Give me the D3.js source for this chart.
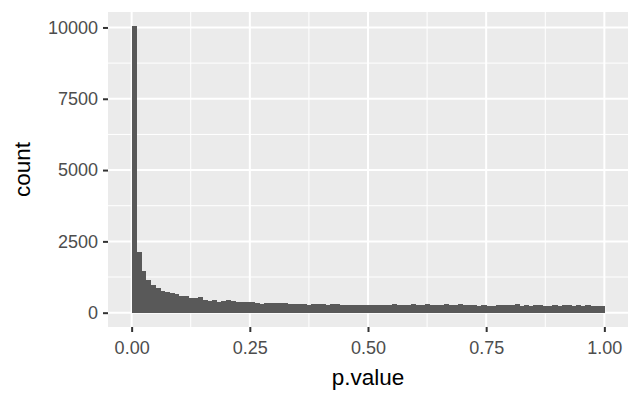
<!DOCTYPE html>
<html>
<head>
<meta charset="utf-8">
<script src="https://cdn.jsdelivr.net/npm/d3@7"></script>
<style>
html, body { margin: 0; padding: 0; background: #ffffff; }
svg { display: block; font-family: "Liberation Sans", Arial, Helvetica, sans-serif; }
</style>
</head>
<body>
<script>
// Histogram of p.value, binwidth 0.01, bins [0,0.01) ... [0.99,1.00]
const binStarts = d3.range(100).map(i => i / 100);
const counts = [
  10040, 2130, 1470, 1160, 980, 870, 770, 730, 695, 660,
  600, 595, 530, 525, 560, 445, 425, 455, 385, 425,
  455, 420, 365, 362, 362, 385, 350, 320, 350, 345,
  340, 345, 330, 320, 300, 295, 290, 285, 315, 290,
  305, 285, 310, 290, 280, 285, 280, 275, 280, 270,
  275, 280, 270, 285, 270, 295, 280, 285, 270, 290,
  275, 270, 290, 285, 265, 270, 290, 260, 265, 290,
  270, 260, 265, 250, 255, 225, 250, 255, 260, 265,
  255, 290, 250, 255, 250, 260, 255, 250, 225, 255,
  250, 255, 260, 250, 255, 245, 285, 250, 245, 250
];
const binWidth = 0.01;
const xTicks = [0, 0.25, 0.5, 0.75, 1];
const xTickLabels = ["0.00", "0.25", "0.50", "0.75", "1.00"];
const xMinor = [0.125, 0.375, 0.625, 0.875];
const yTicks = [0, 2500, 5000, 7500, 10000];
const yTickLabels = ["0", "2500", "5000", "7500", "10000"];
const yMinor = [1250, 3750, 6250, 8750];
const xTitle = "p.value";
const yTitle = "count";

const W = 640, H = 400;
const panel = { left: 108, right: 628, top: 12, bottom: 327 };

const svg = d3.select("body").append("svg").attr("width", W).attr("height", H);
svg.append("rect").attr("width", W).attr("height", H).attr("fill", "#ffffff");

const maxC = d3.max(counts);
const x = d3.scaleLinear().domain([-0.05, 1.05]).range([panel.left, panel.right]);
const y = d3.scaleLinear().domain([-0.05 * maxC, 1.05 * maxC]).range([panel.bottom, panel.top]);

// panel background
svg.append("rect")
  .attr("x", panel.left).attr("y", panel.top)
  .attr("width", panel.right - panel.left).attr("height", panel.bottom - panel.top)
  .attr("fill", "#EBEBEB");

const grid = svg.append("g");
grid.selectAll(".xminor").data(xMinor).enter().append("line")
  .attr("x1", d => x(d)).attr("x2", d => x(d))
  .attr("y1", panel.top).attr("y2", panel.bottom)
  .attr("stroke", "#ffffff").attr("stroke-width", 1);
grid.selectAll(".yminor").data(yMinor).enter().append("line")
  .attr("y1", d => y(d)).attr("y2", d => y(d))
  .attr("x1", panel.left).attr("x2", panel.right)
  .attr("stroke", "#ffffff").attr("stroke-width", 1);
grid.selectAll(".xmajor").data(xTicks).enter().append("line")
  .attr("x1", d => x(d)).attr("x2", d => x(d))
  .attr("y1", panel.top).attr("y2", panel.bottom)
  .attr("stroke", "#ffffff").attr("stroke-width", 2);
grid.selectAll(".ymajor").data(yTicks).enter().append("line")
  .attr("y1", d => y(d)).attr("y2", d => y(d))
  .attr("x1", panel.left).attr("x2", panel.right)
  .attr("stroke", "#ffffff").attr("stroke-width", 2);

// bars
svg.append("g").attr("shape-rendering", "crispEdges")
  .selectAll("rect").data(counts).enter().append("rect")
  .attr("x", (d, i) => x(binStarts[i]))
  .attr("width", (d, i) => x(binStarts[i] + binWidth) - x(binStarts[i]) + 0.5)
  .attr("y", d => y(d))
  .attr("height", d => y(0) - y(d))
  .attr("fill", "#595959");

// axes
const xAxis = d3.axisBottom(x).tickValues(xTicks)
  .tickFormat((d, i) => xTickLabels[i]).tickSize(5).tickPadding(9);
const gx = svg.append("g").attr("transform", `translate(0,${panel.bottom})`).call(xAxis);
gx.select(".domain").remove();
gx.selectAll(".tick line").attr("stroke", "#333333").attr("stroke-width", 2);
gx.selectAll(".tick text").attr("fill", "#4D4D4D").attr("font-size", "18px")
  .attr("font-family", "Liberation Sans, Arial, sans-serif");

const yAxis = d3.axisLeft(y).tickValues(yTicks)
  .tickFormat((d, i) => yTickLabels[i]).tickSize(5).tickPadding(5);
const gy = svg.append("g").attr("transform", `translate(${panel.left},0)`).call(yAxis);
gy.select(".domain").remove();
gy.selectAll(".tick line").attr("stroke", "#333333").attr("stroke-width", 2);
gy.selectAll(".tick text").attr("fill", "#4D4D4D").attr("font-size", "18px")
  .attr("font-family", "Liberation Sans, Arial, sans-serif");

// titles
svg.append("text")
  .attr("x", (panel.left + panel.right) / 2).attr("y", 385)
  .attr("text-anchor", "middle").attr("font-size", "22.5px").attr("fill", "#000000")
  .text(xTitle);
svg.append("text")
  .attr("transform", `translate(30,${(panel.top + panel.bottom) / 2}) rotate(-90)`)
  .attr("text-anchor", "middle").attr("font-size", "22.5px").attr("fill", "#000000")
  .text(yTitle);
</script>
</body>
</html>
